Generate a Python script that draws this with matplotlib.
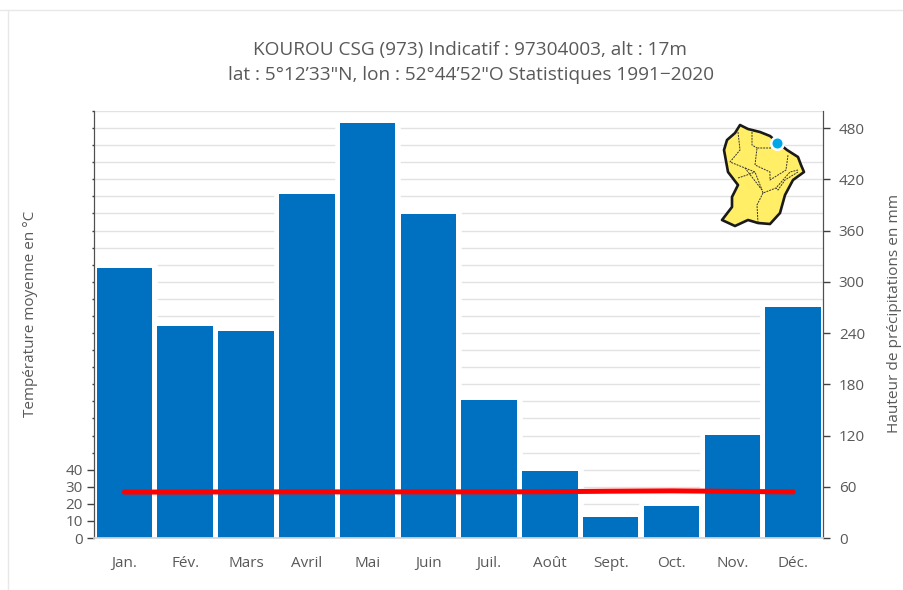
import matplotlib
matplotlib.use("Agg")
import matplotlib.pyplot as plt
from matplotlib.lines import Line2D
from matplotlib.patches import Polygon, Circle

months = ["Jan.", "Fév.", "Mars", "Avril", "Mai", "Juin", "Juil.", "Août", "Sept.", "Oct.", "Nov.", "Déc."]
rain = [316, 248, 242, 403, 486, 379, 162, 78.5, 24.6, 37.5, 120.6, 270.5]
temp = [26.9, 26.9, 27.0, 27.0, 27.0, 27.0, 27.0, 27.1, 27.4, 27.6, 27.3, 27.0]

rain_ticks = [0, 60, 120, 180, 240, 300, 360, 420, 480]
temp_ticks = [0, 10, 20, 30, 40]
temp_minor = list(range(50, 251, 10))

# map outline and rivers (pixels of the 904x590 image)
map_outline = [(740, 125), (748, 129), (760, 132), (770, 136), (777, 142), (787, 150), (798, 157),
               (801, 165), (804, 172), (793, 180), (785, 195), (780, 213), (770, 224), (758, 223), (748, 220),
               (735, 226), (722, 220), (732, 207), (732, 197), (738, 185), (728, 172), (724, 150),
               (727, 140), (735, 133)]
map_rivers = [
    [(738, 132), (740, 150), (730, 162), (745, 168), (762, 190), (763, 193), (776, 188), (790, 172), (798, 170)],
    [(745, 168), (755, 172), (762, 190)],
    [(771, 148), (757, 148), (755, 165), (770, 172), (770, 180), (786, 170), (788, 155)],
    [(752, 132), (752, 145), (757, 148)],
    [(738, 178), (747, 175), (755, 172)],
    [(763, 193), (757, 205), (758, 223)],
    [(798, 172), (785, 180), (778, 190), (776, 188)],
]

GREY = "#595959"
plt.rcParams["font.family"] = ["Open Sans", "DejaVu Sans"]

W, H = 904, 590
fig = plt.figure(figsize=(W / 100, H / 100), dpi=100)

# frame of the original page
fig.add_artist(Line2D([0, 1], [1 - 10 / H, 1 - 10 / H], color="#e8e8e8", lw=1))
fig.add_artist(Line2D([7.5 / W, 7.5 / W], [0, 1 - 10 / H], color="#e8e8e8", lw=1))

rect = [94 / W, 1 - 538 / H, 729.5 / W, 427 / H]
ax2 = fig.add_axes(rect)
ax = fig.add_axes(rect)
ax.set_zorder(ax2.get_zorder() + 1)
ax.patch.set_visible(False)

x = list(range(12))

# rain bars, the white halo cuts the gridlines next to each bar
ax2.bar(x, rain, width=0.913, color="white", edgecolor="white", linewidth=7.6, zorder=2)
ax2.bar(x, rain, width=0.913, color="#0070C0", zorder=3)
ax2.set_xlim(-0.5, 11.5)
ax2.set_ylim(0, 500)
ax2.yaxis.tick_right()
ax2.yaxis.set_label_position("right")
ax2.set_yticks(rain_ticks)
ax2.set_yticks(range(0, 501, 20), minor=True)
ax2.grid(axis="y", which="both", color="#e2e2e2", lw=1.0)
ax2.set_axisbelow(True)
ax2.tick_params(axis="y", which="major", length=5, width=1, color="#404040", labelcolor=GREY, labelsize=11, pad=6)
ax2.tick_params(axis="y", which="minor", length=0)
ax2.set_ylabel("Hauteur de précipitations en mm", color=GREY, fontsize=11.1)
ax2.yaxis.set_label_coords((887 - 94) / 729.5, 0.525)
ax2.set_xticks(x)
ax2.set_xticklabels(months, color=GREY, fontsize=11)
ax2.tick_params(axis="x", length=0, pad=13)

# temperature on top
ax.plot(x, temp, color="#FF0000", lw=3.6, solid_capstyle="round", zorder=5)
ax.set_xlim(-0.5, 11.5)
ax.set_ylim(0, 250)
ax.set_yticks(temp_ticks)
ax.set_yticks(temp_minor, minor=True)
ax.tick_params(axis="y", which="major", length=5, width=1, color="#404040", labelcolor=GREY, labelsize=11, pad=3)
ax.tick_params(axis="y", which="minor", length=1.2, width=1, color="#404040")
ax.set_xticks([])
ax.set_ylabel("Température moyenne en °C", color=GREY, fontsize=11)
ax.yaxis.set_label_coords(-56 / 729.5, 0.525)

for a in (ax, ax2):
    a.spines["top"].set_visible(False)
    a.spines["left"].set_color("#505050")
    a.spines["right"].set_color("#505050")
    a.spines["bottom"].set_color("#d9d9d9")
    a.spines["bottom"].set_linewidth(1.2)

fig.text(470.5 / W, 1 - 49.5 / H, "KOUROU CSG (973) Indicatif : 97304003, alt : 17m",
         ha="center", va="center", color=GREY, fontsize=13.7)
fig.text(471.5 / W, 1 - 75.5 / H, "lat : 5°12’33\"N, lon : 52°44’52\"O Statistiques 1991−2020",
         ha="center", va="center", color=GREY, fontsize=13.7)

# inset map of Guyane, drawn in pixel coordinates
def px(points):
    return [(p[0] / W, 1 - p[1] / H) for p in points]

fig.add_artist(Polygon(px(map_outline), closed=True, facecolor="#FFEE66", edgecolor="#1a1a1a",
                       lw=1.9, joinstyle="round", transform=fig.transFigure, zorder=6))
for river in map_rivers:
    pts = px(river)
    fig.add_artist(Line2D([p[0] for p in pts], [p[1] for p in pts], color="#333333", lw=0.7,
                          ls=(0, (2, 1)), zorder=7))
for radius, col in ((7.5, "white"), (5, "#00A8E8")):
    fig.add_artist(Circle((777.5, H - 143.5), radius, facecolor=col, edgecolor="none",
                          transform=None, zorder=8))

fig.savefig("out.png", dpi=100)
